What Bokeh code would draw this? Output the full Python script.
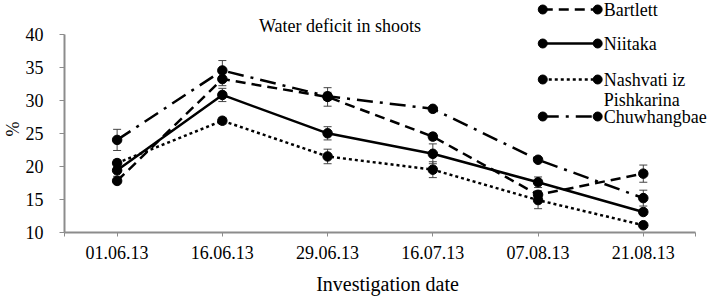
from bokeh.plotting import figure
from bokeh.models import (Range1d, FixedTicker, ColumnDataSource, Whisker, TeeHead, Title)
from bokeh.core.properties import value
from bokeh.embed import file_html
from bokeh.resources import INLINE

dates = ["01.06.13", "16.06.13", "29.06.13", "16.07.13", "07.08.13", "21.08.13"]
bartlett = [17.8, 33.2, 30.5, 24.5, 15.7, 18.9]
niitaka = [19.4, 30.8, 25.0, 21.9, 17.6, 13.1]
nashvati = [20.5, 26.9, 21.5, 19.5, 14.9, 11.1]
chuwhangbae = [24.0, 34.5, 30.6, 28.7, 21.0, 15.2]

bartlett_err = [0.3, 1.0, 1.4, 0.5, 0.6, 1.3]
niitaka_err = [0.9, 1.0, 1.0, 1.5, 0.8, 0.4]
nashvati_err = [0.5, 0.5, 1.1, 1.2, 1.3, 0.3]
chuwhangbae_err = [1.6, 1.5, 0.6, 0.3, 0.4, 1.2]

series_names = ["Bartlett", "Niitaka", "Nashvati iz\nPishkarina", "Chuwhangbae"]
y_ticks = [10, 15, 20, 25, 30, 35, 40]

FONT = "Liberation Serif"
W, H = 710, 301
LEFT, BOTTOM = 63, 69
FRAME_W = W - LEFT
FRAME_H = H - BOTTOM
PX_PER_X = 105.4
PX_PER_Y = 6.613

p = figure(width=W, height=H, output_backend="svg", toolbar_location=None,
           min_border_left=LEFT, min_border_right=0, min_border_top=0,
           min_border_bottom=BOTTOM,
           x_range=Range1d(-0.5, -0.5 + FRAME_W / PX_PER_X),
           y_range=Range1d(y_ticks[0], y_ticks[0] + FRAME_H / PX_PER_Y))
p.outline_line_color = None
p.grid.visible = False
p.background_fill_color = "white"
p.border_fill_color = "white"

# pixel ranges for the legend / title layout
p.extra_x_ranges["px"] = Range1d(LEFT, W)
p.extra_y_ranges["px"] = Range1d(FRAME_H, 0)

xs = list(range(len(dates)))
x_edges = [-0.5, len(dates) - 0.5]

# axes
p.xaxis.ticker = FixedTicker(ticks=xs + x_edges)
overrides = {i: d for i, d in enumerate(dates)}
for e in x_edges:
    overrides[e] = ""
p.xaxis.major_label_overrides = overrides
p.xaxis.bounds = (x_edges[0], x_edges[1])
p.yaxis.ticker = FixedTicker(ticks=y_ticks)
p.yaxis.bounds = (y_ticks[0], y_ticks[-1])
for ax in (p.xaxis, p.yaxis):
    ax.axis_line_color = "#8c8c8c"
    ax.axis_line_width = 2
    ax.major_tick_line_color = "#8c8c8c"
    ax.major_tick_line_width = 1
    ax.minor_tick_line_color = None
    ax.major_tick_in = 0
    ax.major_label_text_font = FONT
    ax.major_label_text_font_size = "18px"
    ax.major_label_text_color = "black"
    ax.axis_label_text_font = FONT
    ax.axis_label_text_font_style = "normal"
    ax.axis_label_text_color = "black"
p.xaxis.major_tick_out = 4
p.xaxis.major_label_standoff = 9
p.xaxis.axis_label = "Investigation date"
p.xaxis.axis_label_text_font_size = "20px"
p.xaxis.axis_label_standoff = 11
p.yaxis.major_tick_out = 5
p.yaxis.major_label_standoff = 16

p.add_layout(Title(text="%", align="left", offset=96, text_font=FONT,
                   text_font_size="18px", text_font_style="normal",
                   text_color="black", standoff=0), "left")

styles = [
    dict(line_dash="10 6"),
    dict(line_dash="solid"),
    dict(line_dash="3 3"),
    dict(line_dash="16 7 3 7"),
]
vals = [bartlett, niitaka, nashvati, chuwhangbae]
errs = [bartlett_err, niitaka_err, nashvati_err, chuwhangbae_err]

for v, e, st in zip(vals, errs, styles):
    src = ColumnDataSource(dict(x=xs, y=v,
                                lo=[a - b for a, b in zip(v, e)],
                                hi=[a + b for a, b in zip(v, e)]))
    p.line("x", "y", source=src, line_color="black", line_width=2.5, **st)
    w = Whisker(source=src, base="x", upper="hi", lower="lo",
                line_color="#444444", line_width=1,
                upper_head=TeeHead(size=8, line_color="#444444", line_width=1),
                lower_head=TeeHead(size=8, line_color="#444444", line_width=1))
    p.add_layout(w)
    p.scatter("x", "y", source=src, size=9.5, marker="circle",
              fill_color="black", line_color="black")

# title
p.text(x=[339], y=[25], text=["Water deficit in shoots"], x_range_name="px",
       y_range_name="px", text_align="center", text_baseline="middle",
       text_font=value(FONT), text_font_size="18px", text_color="black")

# legend
leg_y = [9, 43, 79, 116]
gx0, gx1, tx = 542, 597, 603
for name, st, ly in zip(series_names, styles, leg_y):
    p.line(x=[gx0, gx1], y=[ly, ly], x_range_name="px", y_range_name="px",
           line_color="black", line_width=2.5, **st)
    p.scatter(x=[gx0, gx1], y=[ly, ly], x_range_name="px", y_range_name="px",
              size=9, marker="circle", fill_color="black", line_color="black")
    lines = name.split("\n")
    for k, ln in enumerate(lines):
        p.text(x=[tx], y=[ly + 20 * k], text=[ln], x_range_name="px",
               y_range_name="px", text_align="left", text_baseline="middle",
               text_font=value(FONT), text_font_size="18px", text_color="black")

open("out.html", "w").write(file_html(p, INLINE))
